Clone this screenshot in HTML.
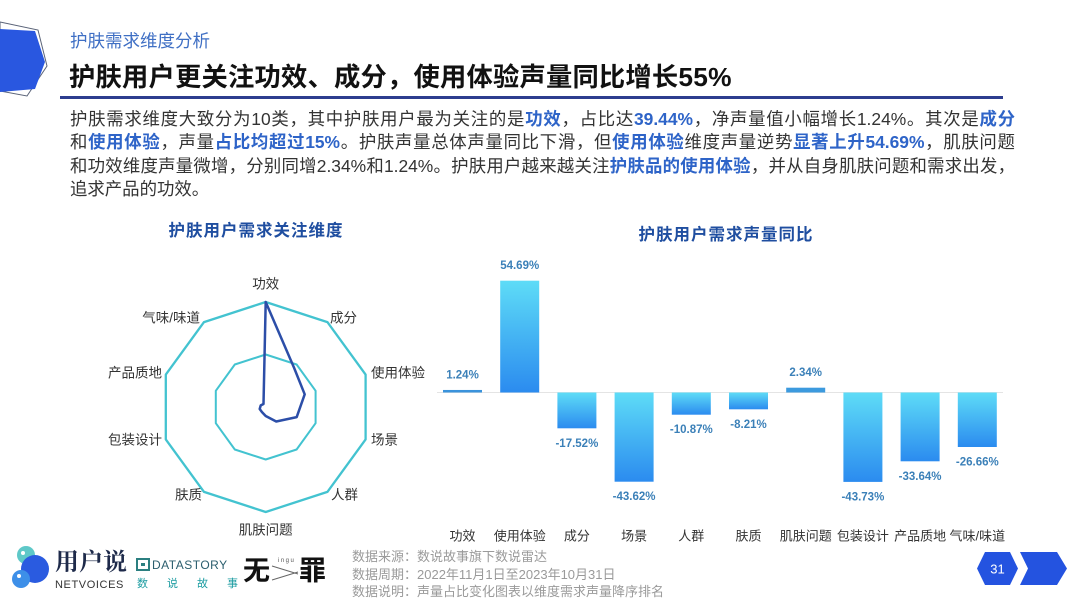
<!DOCTYPE html>
<html><head><meta charset="utf-8">
<style>
html,body{margin:0;padding:0;background:#fff;}
body{width:1080px;height:608px;position:relative;overflow:hidden;font-family:"Liberation Sans","Noto Sans CJK SC",sans-serif;}
.abs{position:absolute;}
.sub{left:70px;top:30px;font-size:17.5px;color:#3f6fc4;line-height:22px;white-space:nowrap;}
.title{left:69px;top:61px;font-size:26.3px;font-weight:bold;color:#111;letter-spacing:0.2px;line-height:33px;white-space:nowrap;}
.body{left:70px;top:108px;width:945px;font-size:17.4px;color:#333;line-height:23.3px;}
.body div{text-align:justify;text-align-last:justify;}
.body div.last{text-align:left;text-align-last:left;}
.body b{color:#2e64c8;font-weight:bold;}
.foot{left:352px;top:548px;font-size:13px;color:#9a9a9a;line-height:17.5px;white-space:nowrap;}
</style></head>
<body>
<svg class="abs" style="left:0;top:0" width="1080" height="608" viewBox="0 0 1080 608" xmlns="http://www.w3.org/2000/svg">
  <defs>
    <linearGradient id="bg" x1="0" y1="0" x2="0" y2="1">
      <stop offset="0" stop-color="#5edcf7"/>
      <stop offset="1" stop-color="#2b8bef"/>
    </linearGradient>
  </defs>
  <!-- top-left decoration -->
  <polygon points="0,22 38,30 47,66 27,96 0,91" fill="none" stroke="#5a6378" stroke-width="1"/>
  <polygon points="0,29 35,31 45,62 35,89 0,92" fill="#2957e0"/>
  <!-- title underline -->
  <rect x="60" y="96" width="943" height="3" fill="#2d3d8f"/>

  <!-- chart titles -->
  <text x="256" y="231" text-anchor="middle" dominant-baseline="central" font-family="Liberation Sans, Noto Sans CJK SC, sans-serif" font-size="16.5" font-weight="bold" fill="#1f4ea0" letter-spacing="1">护肤用户需求关注维度</text>
  <text x="726" y="235" text-anchor="middle" dominant-baseline="central" font-family="Liberation Sans, Noto Sans CJK SC, sans-serif" font-size="16.5" font-weight="bold" fill="#1f4ea0" letter-spacing="1">护肤用户需求声量同比</text>

  <!-- radar -->
  <polygon points="265.7,302 327.4,322.1 365.6,374.6 365.6,439.4 327.4,491.9 265.7,512 204,491.9 165.8,439.4 165.8,374.6 204,322.1" fill="none" stroke="#43c3d0" stroke-width="2.3" stroke-linejoin="round"/>
  <polygon points="265.7,354.5 296.6,364.5 315.6,390.8 315.6,423.2 296.6,449.5 265.7,459.5 234.8,449.5 215.8,423.2 215.8,390.8 234.8,364.5" fill="none" stroke="#43c3d0" stroke-width="2" stroke-linejoin="round"/>
  <polygon points="265.7,302 294.1,367.9 304.7,394.3 296.7,417.1 276.2,421.5 265.7,416 262,412.1 259.7,409 260.7,405.4 263.5,404" fill="none" stroke="#2c4ea8" stroke-width="2.5" stroke-linejoin="round"/>
  <g font-family="Liberation Sans, Noto Sans CJK SC, sans-serif" font-size="13.5" fill="#333" dominant-baseline="central">
    <text x="265.7" y="284" text-anchor="middle">功效</text>
    <text x="330" y="318">成分</text>
    <text x="371" y="373">使用体验</text>
    <text x="371" y="440">场景</text>
    <text x="331" y="495">人群</text>
    <text x="265.7" y="530" text-anchor="middle">肌肤问题</text>
    <text x="202" y="495" text-anchor="end">肤质</text>
    <text x="162" y="440" text-anchor="end">包装设计</text>
    <text x="162" y="373" text-anchor="end">产品质地</text>
    <text x="200" y="318" text-anchor="end">气味/味道</text>
  </g>

  <!-- bar chart -->
  <line x1="437" y1="392.5" x2="1003" y2="392.5" stroke="#e4e4e4" stroke-width="1"/>
  <g fill="url(#bg)">
    <rect x="443" y="389.96" width="39" height="2.54" fill="#3a93dc"/>
    <rect x="500.2" y="280.7" width="39" height="111.8"/>
    <rect x="557.4" y="392.5" width="39" height="35.8"/>
    <rect x="614.6" y="392.5" width="39" height="89.2"/>
    <rect x="671.8" y="392.5" width="39" height="22.2"/>
    <rect x="729" y="392.5" width="39" height="16.8"/>
    <rect x="786.2" y="387.7" width="39" height="4.8" fill="#3c9ade"/>
    <rect x="843.4" y="392.5" width="39" height="89.4"/>
    <rect x="900.6" y="392.5" width="39" height="68.8"/>
    <rect x="957.8" y="392.5" width="39" height="54.5"/>
  </g>
  <g font-family="Liberation Sans, Noto Sans CJK SC, sans-serif" font-size="11.5" font-weight="bold" fill="#3b80b8" text-anchor="middle" dominant-baseline="central">
    <text x="462.5" y="375.5">1.24%</text>
    <text x="519.7" y="266">54.69%</text>
    <text x="576.9" y="443.8">-17.52%</text>
    <text x="634.1" y="497.2">-43.62%</text>
    <text x="691.3" y="430.2">-10.87%</text>
    <text x="748.5" y="424.8">-8.21%</text>
    <text x="805.7" y="373.2">2.34%</text>
    <text x="862.9" y="497.4">-43.73%</text>
    <text x="920.1" y="476.8">-33.64%</text>
    <text x="977.3" y="462.5">-26.66%</text>
  </g>
  <g font-family="Liberation Sans, Noto Sans CJK SC, sans-serif" font-size="13" fill="#333" text-anchor="middle" dominant-baseline="central">
    <text x="462.5" y="536">功效</text>
    <text x="519.7" y="536">使用体验</text>
    <text x="576.9" y="536">成分</text>
    <text x="634.1" y="536">场景</text>
    <text x="691.3" y="536">人群</text>
    <text x="748.5" y="536">肤质</text>
    <text x="805.7" y="536">肌肤问题</text>
    <text x="862.9" y="536">包装设计</text>
    <text x="920.1" y="536">产品质地</text>
    <text x="977.3" y="536">气味/味道</text>
  </g>

  <!-- footer logos -->
  <circle cx="26" cy="555" r="9" fill="#5ec8c8"/>
  <circle cx="35" cy="569" r="14" fill="#2a5be0"/>
  <circle cx="21" cy="579" r="9" fill="#3d8fe8"/>
  <circle cx="23" cy="553" r="2" fill="#fff"/>
  <circle cx="19" cy="576" r="2" fill="#fff"/>
  <text x="55" y="563" dominant-baseline="central" font-family="Liberation Serif, Noto Serif CJK SC, serif" font-size="24" font-weight="bold" fill="#1e2a4a">用户说</text>
  <text x="55" y="585" dominant-baseline="central" font-family="Liberation Sans, sans-serif" font-size="11" fill="#333" letter-spacing="0.6">NETVOICES</text>
  <rect x="137" y="559" width="12" height="11" fill="none" stroke="#2b7f80" stroke-width="2"/>
  <rect x="141" y="563" width="4" height="3" fill="#2b7f80"/>
  <text x="152" y="565" dominant-baseline="central" font-family="Liberation Sans, sans-serif" font-size="12" fill="#2b5e6e" letter-spacing="0.5">DATASTORY</text>
  <text x="137" y="584" dominant-baseline="central" font-family="Liberation Sans, Noto Sans CJK SC, sans-serif" font-size="11" fill="#1a9ba0" letter-spacing="19">数说故事</text>
  <text x="243" y="571" dominant-baseline="central" font-family="Liberation Sans, Noto Sans CJK SC, sans-serif" font-size="27" font-weight="bold" fill="#111">无</text>
  <text x="278" y="561" dominant-baseline="central" font-family="Liberation Sans, sans-serif" font-size="6" fill="#555" letter-spacing="1.5">ingu</text>
  <path d="M272 566 L298 574 M272 580 L298 572" stroke="#666" stroke-width="1" fill="none"/>
  <text x="299" y="571" dominant-baseline="central" font-family="Liberation Sans, Noto Sans CJK SC, sans-serif" font-size="27" font-weight="bold" fill="#111">罪</text>

  <!-- page number -->
  <polygon points="977,568.5 985,552 1010,552 1018,568.5 1010,585 985,585" fill="#2453e0"/>
  <text x="997.5" y="569" text-anchor="middle" dominant-baseline="central" font-family="Liberation Sans, sans-serif" font-size="13" fill="#fff">31</text>
  <polygon points="1020,552 1057,552 1067,568.5 1057,585 1020,585 1028,568.5" fill="#2453e0"/>
</svg>

<div class="abs sub">护肤需求维度分析</div>
<div class="abs title">护肤用户更关注功效、成分，使用体验声量同比增长55%</div>
<div class="abs body">
<div>护肤需求维度大致分为10类，其中护肤用户最为关注的是<b>功效</b>，占比达<b>39.44%</b>，净声量值小幅增长1.24%。其次是<b>成分</b></div>
<div>和<b>使用体验</b>，声量<b>占比均超过15%</b>。护肤声量总体声量同比下滑，但<b>使用体验</b>维度声量逆势<b>显著上升54.69%</b>，肌肤问题</div>
<div>和功效维度声量微增，分别同增2.34%和1.24%。护肤用户越来越关注<b>护肤品的使用体验</b>，并从自身肌肤问题和需求出发，</div>
<div class="last">追求产品的功效。</div>
</div>
<div class="abs foot">数据来源：数说故事旗下数说雷达<br>数据周期：2022年11月1日至2023年10月31日<br>数据说明：声量占比变化图表以维度需求声量降序排名</div>
</body></html>
